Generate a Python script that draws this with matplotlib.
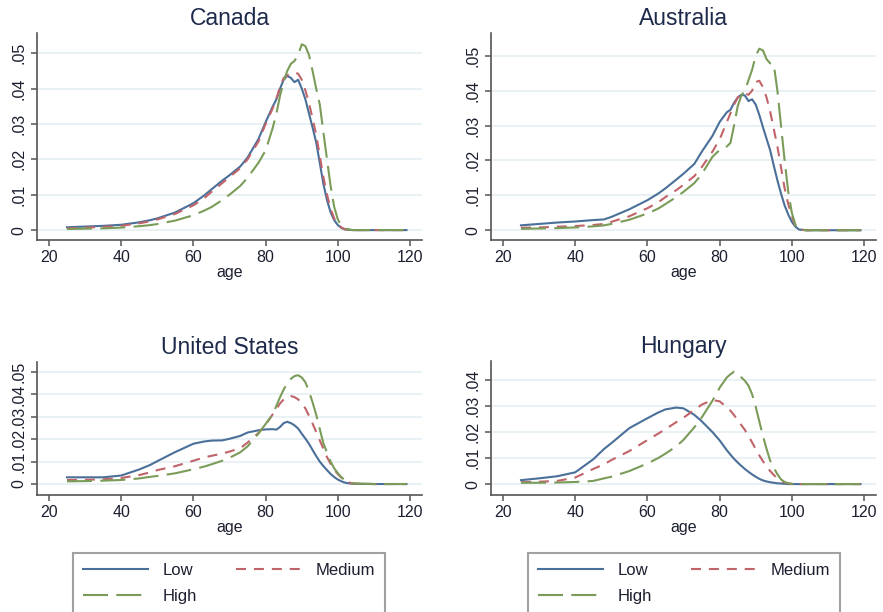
import numpy as np
import matplotlib
matplotlib.use("Agg")
import matplotlib.pyplot as plt
from matplotlib.ticker import FuncFormatter

plt.rcParams["font.family"] = ["Liberation Sans", "DejaVu Sans"]

# common age grid for all density curves
ages = [25, 30, 35, 40, 45, 48, 50, 55, 60, 63, 65, 68, 70, 73, 75, 78, 80, 82, 83, 84,
        85, 86, 87, 88, 89, 90, 91, 92, 93, 94, 95, 96, 97, 98, 99, 100, 101, 102, 104, 110, 119]

canada_low = [.0008, .0010, .0012, .0015, .0022, .0028, .0033, .0050, .0076, .0098, .0115, .0140, .0155, .0180, .0205, .0257, .0305, .0350, .0370, .0400,
              .0425, .0436, .0430, .0418, .0425, .0400, .0370, .0330, .0290, .0248, .0190, .0130, .0085, .0050, .0028, .0014, .0006, .0002, 0, 0, 0]
canada_medium = [.0005, .0007, .0009, .0012, .0019, .0025, .0030, .0046, .0070, .0090, .0108, .0133, .0150, .0175, .0200, .0250, .0300, .0345, .0372, .0405,
                 .0430, .0438, .0440, .0445, .0442, .0425, .0395, .0360, .0315, .0270, .0210, .0150, .0100, .0060, .0033, .0017, .0007, .0002, 0, 0, 0]
canada_high = [.0003, .0004, .0005, .0007, .0011, .0014, .0017, .0027, .0042, .0055, .0065, .0085, .0100, .0125, .0148, .0190, .0225, .0290, .0330, .0380,
               .0420, .0450, .0470, .0478, .0495, .0525, .0520, .0495, .0450, .0400, .0355, .0276, .0200, .0124, .0065, .0030, .0012, .0004, 0, 0, 0]

australia_low = [.0014, .0018, .0022, .0025, .0029, .0031, .0038, .0060, .0086, .0105, .0120, .0145, .0162, .0190, .0224, .0270, .0310, .0338, .0345, .0365,
                 .0380, .0388, .0386, .0370, .0375, .0360, .0330, .0295, .0262, .0229, .0185, .0143, .0105, .0071, .0045, .0024, .0010, .0002, 0, 0, 0]
australia_medium = [.0007, .0008, .0010, .0012, .0015, .0018, .0024, .0040, .0063, .0080, .0095, .0115, .0130, .0155, .0180, .0225, .0260, .0310, .0335, .0360,
                    .0380, .0390, .0392, .0388, .0400, .0425, .0428, .0410, .0380, .0340, .0290, .0240, .0180, .0120, .0075, .0040, .0012, .0002, 0, 0, 0]
australia_high = [.0004, .0005, .0006, .0008, .0011, .0014, .0018, .0030, .0048, .0062, .0075, .0095, .0110, .0135, .0160, .0210, .0230, .0240, .0250, .0300,
                  .0355, .0385, .0400, .0430, .0460, .0500, .0520, .0515, .0490, .0478, .0475, .0400, .0300, .0200, .0110, .0050, .0015, .0002, 0, 0, 0]

us_low = [.0030, .0030, .0030, .0038, .0065, .0085, .0102, .0143, .0180, .0190, .0194, .0195, .0202, .0215, .0230, .0240, .0244, .0245, .0243, .0255,
          .0272, .0278, .0272, .0262, .0248, .0225, .0203, .0180, .0152, .0125, .0100, .0080, .0062, .0045, .0031, .0020, .0012, .0006, .0001, 0, 0]
us_medium = [.0018, .0019, .0021, .0027, .0040, .0052, .0062, .0080, .0104, .0119, .0126, .0136, .0145, .0160, .0185, .0228, .0265, .0312, .0335, .0360,
             .0378, .0390, .0393, .0388, .0378, .0360, .0338, .0305, .0270, .0233, .0195, .0157, .0120, .0090, .0065, .0044, .0028, .0014, .0002, 0, 0]
us_high = [.0012, .0013, .0015, .0018, .0025, .0032, .0036, .0048, .0066, .0078, .0088, .0104, .0117, .0142, .0168, .0225, .0268, .0312, .0350, .0388,
           .0422, .0450, .0470, .0482, .0486, .0476, .0455, .0415, .0365, .0310, .0245, .0182, .0140, .0100, .0070, .0048, .0030, .0016, .0003, 0, 0]

hungary_low = [.0015, .0022, .0030, .0045, .0095, .0135, .0157, .0215, .0253, .0275, .0287, .0294, .0291, .0266, .0242, .0200, .0168, .0130, .0113, .0097,
               .0083, .0070, .0058, .0047, .0037, .0028, .0020, .0014, .0010, .0007, .0005, .0003, .0002, .0001, 0, 0, 0, 0, 0, 0, 0]
hungary_medium = [.0007, .0009, .0012, .0025, .0058, .0076, .0092, .0127, .0169, .0194, .0211, .0238, .0255, .0285, .0305, .0323, .0318, .0295, .0282, .0265,
                  .0245, .0227, .0208, .0185, .0160, .0135, .0110, .0088, .0067, .0050, .0035, .0022, .0012, .0006, .0003, .0001, 0, 0, 0, 0, 0]
hungary_high = [.0005, .0005, .0006, .0008, .0012, .0022, .0028, .0050, .0079, .0100, .0117, .0145, .0170, .0218, .0255, .0320, .0370, .0410, .0422, .0432,
                .0425, .0410, .0397, .0378, .0345, .0297, .0240, .0185, .0135, .0090, .0062, .0038, .0018, .0008, .0003, .0001, 0, 0, 0, 0, 0]

countries = ["Canada", "Australia", "United States", "Hungary"]
series = {
    "Canada": (canada_low, canada_medium, canada_high),
    "Australia": (australia_low, australia_medium, australia_high),
    "United States": (us_low, us_medium, us_high),
    "Hungary": (hungary_low, hungary_medium, hungary_high),
}
yticks = {
    "Canada": [0, .01, .02, .03, .04, .05],
    "Australia": [0, .01, .02, .03, .04, .05],
    "United States": [0, .01, .02, .03, .04, .05],
    "Hungary": [0, .01, .02, .03, .04],
}
ylims = {
    "Canada": (-0.0028, 0.0557),
    "Australia": (-0.0028, 0.0565),
    "United States": (-0.0049, 0.0545),
    "Hungary": (-0.0042, 0.0473),
}
xticks = [20, 40, 60, 80, 100, 120]
level_labels = ["Low", "Medium", "High"]

W, H = 883, 612
# axes boxes in pixels: left, right, top, bottom
boxes = {
    "Canada": (37, 422, 33, 240),
    "Australia": (491, 876, 33, 240),
    "United States": (37, 422, 362, 495),
    "Hungary": (491, 876, 361, 495),
}

colors = ["#4a6f99", "#c0646a", "#7a9c58"]
dashes = [None, (4.8, 3.8), (12, 4)]

text_col = "#1c1f30"
title_col = "#1e2a4c"
spine_col = "#555555"


def fmt(v, pos):
    if abs(v) < 1e-9:
        return "0"
    return ("%.2f" % v).lstrip("0")


fig = plt.figure(figsize=(W / 100, H / 100), dpi=100)

handles = {}
for name in countries:
    l, r, t, b = boxes[name]
    ax = fig.add_axes([l / W, 1 - b / H, (r - l) / W, (b - t) / H])
    for lab, vals, c, d in zip(level_labels, series[name], colors, dashes):
        line, = ax.plot(ages, vals, color=c, lw=1.5, label=lab)
        if d is not None:
            line.set_dashes(d)
        handles[lab] = line
    ax.set_xlim(16.7, 123.3)
    ax.set_ylim(*ylims[name])
    ax.set_xticks(xticks)
    ax.set_yticks(yticks[name])
    ax.yaxis.set_major_formatter(FuncFormatter(fmt))
    ax.grid(axis="y", color="#e6eff2", lw=1.2)
    ax.set_axisbelow(True)
    for s in ["top", "right"]:
        ax.spines[s].set_visible(False)
    for s in ["left", "bottom"]:
        ax.spines[s].set_color(spine_col)
        ax.spines[s].set_linewidth(1.2)
    ax.tick_params(direction="out", length=4, width=1.1, color=spine_col,
                   labelsize=11.5, labelcolor=text_col)
    plt.setp(ax.get_yticklabels(), rotation=90, va="center")
    ax.set_xlabel("age", fontsize=11.5, color=text_col, labelpad=0)
    ax.set_title(name, fontsize=16.5, color=title_col, pad=6)

# legends under the two bottom panels (bottom edge runs off the figure)
order = [handles["Low"], handles["High"], handles["Medium"]]
order_labels = ["Low", "High", "Medium"]
for x0, x1 in [(73, 385), (528, 840)]:
    leg = fig.legend(order, order_labels, loc="upper left",
                     bbox_to_anchor=(x0 / W, 0, (x1 - x0) / W, 1 - 553 / H),
                     mode="expand", ncol=2, fontsize=12, handlelength=3.9,
                     labelspacing=0.65, borderpad=0.6, borderaxespad=0,
                     handletextpad=0.9, fancybox=False, frameon=True)
    leg.get_frame().set_edgecolor("#8a8a8a")
    leg.get_frame().set_linewidth(1.5)
    for txt in leg.get_texts():
        txt.set_color(text_col)

fig.savefig("out.png", dpi=100)
